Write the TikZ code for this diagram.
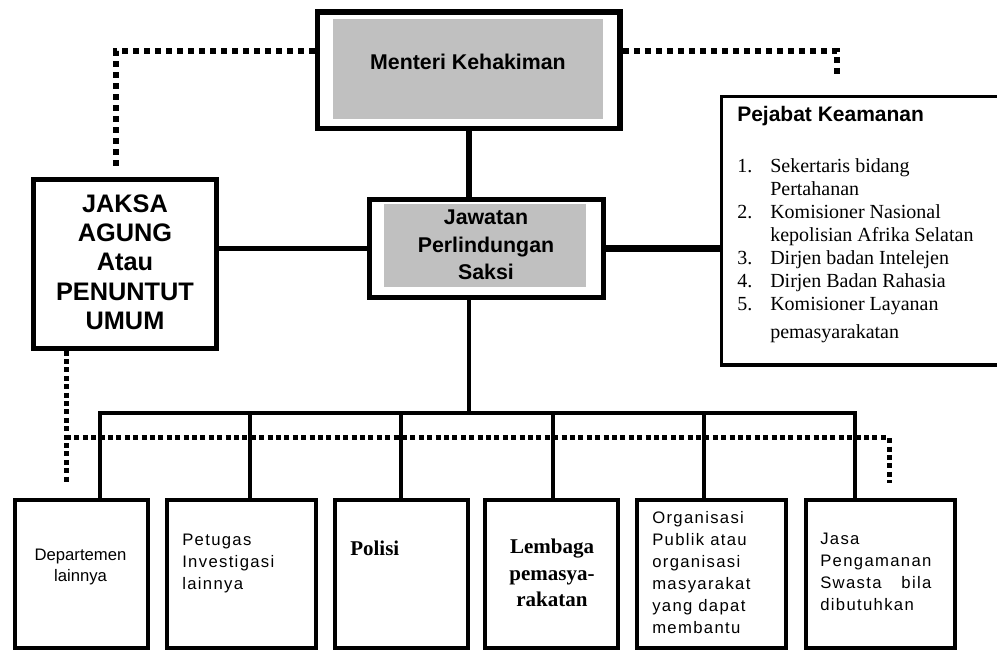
\documentclass[tikz,border=0pt]{standalone}
\usepackage{fontspec}
\newfontfamily\arialfont{Liberation Sans}
\newfontfamily\widefont[LetterSpace=8]{Liberation Sans}
\newfontfamily\timesfont{Liberation Serif}
\definecolor{boxgrey}{RGB}{192,192,192}

\begin{document}
\begin{tikzpicture}[x=0.75pt,y=0.75pt,yscale=-1,xscale=1,
  orgbox/.style={draw, line width=3pt, minimum width=99.75pt, minimum height=111pt, inner sep=0pt},
  widebox/.style={orgbox, minimum width=111.75pt},
  conline/.style={line width=3pt},
  conthick/.style={line width=4.5pt},
  dotbig/.style={line width=4.5pt, dash pattern=on 4.5pt off 3.75pt},
  dotsmall/.style={line width=3.75pt, dash pattern=on 3.7pt off 2.6pt}]
\useasboundingbox (0,0) rectangle (997,652);
\clip (0,0) rectangle (997,652);

%Shape: Rectangle (grey fills)
\fill [boxgrey] (333,19) rectangle (603,119);
\fill [boxgrey] (384,204) rectangle (586,287);

%Shape: Rectangle
\node [draw, line width=4.25pt, minimum width=226.9pt, minimum height=87.4pt] (menteri) at (468.75,70.25) {};
%Shape: Rectangle
\node [draw, line width=3.75pt, minimum width=175.5pt, minimum height=73.5pt] (jawatan) at (486.5,248.5) {};
%Shape: Rectangle
\node [draw, line width=3.25pt, minimum width=137.25pt, minimum height=126.75pt] (jaksa) at (125,264) {};
%Shape: Rectangle
\node [draw, line width=2.8pt, minimum width=209pt, minimum height=201.4pt] (pejabat) at (860.75,230.75) {};

%Shape: Rectangle (bottom row)
\node [orgbox] (dept) at (81.5,574) {};
\node [widebox] (petugas) at (241.5,574) {};
\node [orgbox] (polisi) at (401.5,574) {};
\node [orgbox] (lembaga) at (551.5,574) {};
\node [widebox] (organisasi) at (711.5,574) {};
\node [widebox] (jasa) at (880.5,574) {};

%Straight Lines
\draw [conthick] (menteri.south) -- (menteri.south |- jawatan.north);
\draw [line width=3.5pt] (jaksa.east |- jawatan.west) -- (jawatan.west);
\draw [line width=5pt] (jawatan.east) -- (jawatan.east -| pejabat.west);

%Straight Lines (bus)
\coordinate (bus) at (469,413);
\coordinate (busL) at (100,413);
\coordinate (busR) at (855,413);
\draw [conline] (bus |- jawatan.south) -- (bus);
\draw [conline] (busL |- dept.north) -- (busL) -- (busR) -- (busR |- jasa.north);
\foreach \x/\b in {250/petugas,401/polisi,553/lembaga,704/organisasi}
  {\path (\x,413) coordinate (drop);
   \draw [conline] (drop) -- (drop |- \b.north);}

%Dotted Lines
\coordinate (dotTL) at (116,51);
\coordinate (dotTLend) at (116,167);
\coordinate (dotTR) at (837,51);
\coordinate (dotTRend) at (837,78);
\draw [dotbig] (menteri.west |- dotTL) -- (dotTL) -- (dotTLend);
\draw [dotbig] (menteri.east |- dotTR) -- (dotTR) -- (dotTRend);
\coordinate (dotBL) at (66,483);
\coordinate (dotBM) at (66,438);
\coordinate (dotBR) at (889,483);
\draw [dotsmall] (dotBL |- jaksa.south) -- (dotBL);
\draw [dotsmall] (dotBM) -| (dotBR);

% Text Node
\node [inner sep=0.75pt, font=\arialfont\bfseries\fontsize{16pt}{20pt}\selectfont] (menteriText) at (468,62) {Menteri Kehakiman};
% Text Node
\node [inner sep=0.75pt, align=center, font=\arialfont\bfseries\fontsize{16pt}{20.6pt}\selectfont] (jawatanText) at (486,245) {Jawatan\\Perlindungan\\Saksi};
% Text Node
\node [inner sep=0.75pt, align=center, font=\arialfont\bfseries\fontsize{19pt}{22pt}\selectfont] (jaksaText) at (125,262) {JAKSA\\AGUNG\\Atau\\PENUNTUT\\UMUM};
% Text Node
\node [anchor=west, inner sep=0pt, font=\arialfont\bfseries\fontsize{15.75pt}{18pt}\selectfont] (pejabatText) at (737,116) {Pejabat Keamanan};
% Text Node
\node [anchor=north west, inner sep=0pt, font=\timesfont\fontsize{15pt}{17.25pt}\selectfont] (pejabatList) at (737,156) {%
  \begin{tabular}{@{}p{24.75pt}@{}l@{}}
  1. & Sekertaris bidang\\
     & Pertahanan\\
  2. & Komisioner Nasional\\
     & kepolisian Afrika Selatan\\
  3. & Dirjen badan Intelejen\\
  4. & Dirjen Badan Rahasia\\
  5. & Komisioner Layanan\\[3.75pt]
     & pemasyarakatan
  \end{tabular}};

% Text Node (bottom row)
\node [inner sep=0.75pt, align=center, font=\arialfont\fontsize{12.5pt}{15.75pt}\selectfont] (deptText) at (80.5,567) {Departemen\\lainnya};
\node [anchor=west, inner sep=0pt, align=left, font=\widefont\fontsize{12.5pt}{16.5pt}\selectfont] (petugasText) at (182,563) {Petugas\\Investigasi\\lainnya};
\node [anchor=west, inner sep=0pt, font=\timesfont\bfseries\fontsize{15.75pt}{20pt}\selectfont] (polisiText) at (350,548) {Polisi};
\node [inner sep=0.75pt, align=center, font=\timesfont\bfseries\fontsize{15.75pt}{20pt}\selectfont] (lembagaText) at (552,573) {Lembaga\\pemasya-\\rakatan};
\node [anchor=west, inner sep=0pt, align=left, font=\widefont\fontsize{12.5pt}{16.5pt}\selectfont] (organisasiText) at (652,573) {Organisasi\\Publik atau\\organisasi\\masyarakat\\yang dapat\\membantu};
\node [anchor=west, inner sep=0pt, align=left, font=\widefont\fontsize{12.5pt}{16.5pt}\selectfont] (jasaText) at (820,572) {Jasa\\Pengamanan\\\rlap{Swasta}\phantom{Pengamanan}\llap{bila}\\dibutuhkan};

\end{tikzpicture}
\end{document}
